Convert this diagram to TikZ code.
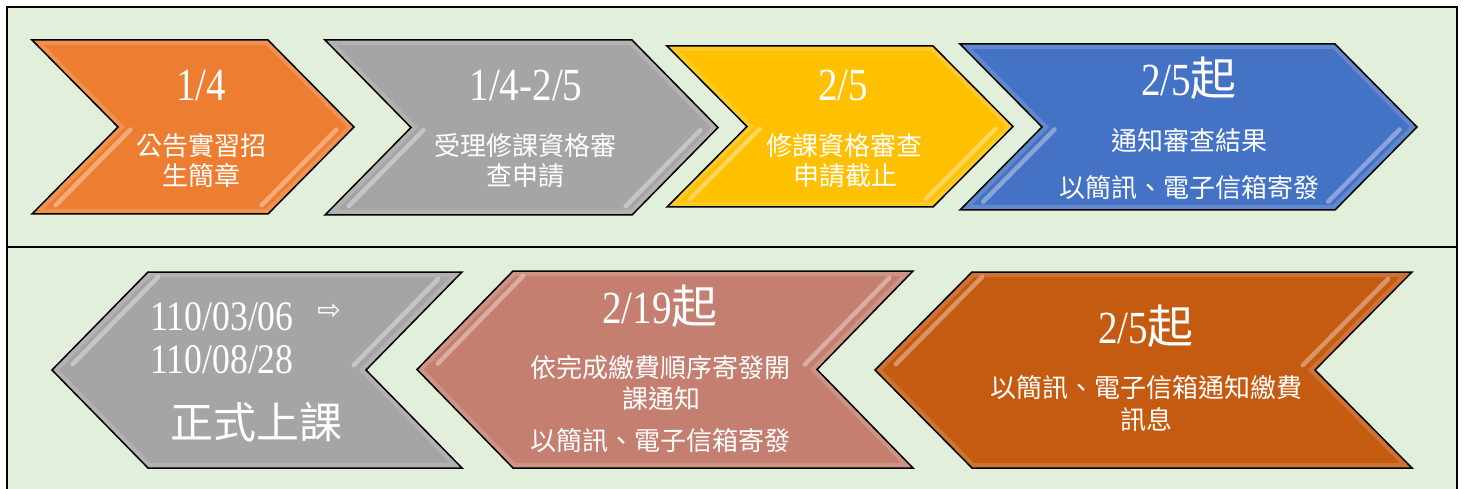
\documentclass[tikz,border=0pt]{standalone}
\usepackage{fontspec}
\setmainfont{Liberation Serif}
\newfontfamily\dt[FakeStretch=0.85]{Liberation Serif}
\newfontfamily\cjk{Noto Sans CJK TC}
\newfontfamily\sym{DejaVu Sans}
\usetikzlibrary{calc}
\definecolor{bg}{HTML}{E2EFDA}
\definecolor{cOrange}{HTML}{ED7D31}
\definecolor{cGray}{HTML}{A5A5A5}
\definecolor{cYellow}{HTML}{FFC000}
\definecolor{cBlue}{HTML}{4472C4}
\definecolor{cRose}{HTML}{C47F70}
\definecolor{cRust}{HTML}{C55A11}
\tikzset{
  txt/.style={text=white, inner sep=0pt, anchor=base},
  date/.style={txt, font=\dt\fontsize{46}{50}\selectfont},
  body/.style={txt, font=\cjk\fontsize{26}{30}\selectfont},
  hl/.style={line width=4.5pt, line cap=round, color=#1!40!white, opacity=0.6},
  edgeglow/.style={line width=10pt, color=#1!55!white, opacity=0.35},
  outline/.style={line width=1.5pt, line join=miter, draw=black}
}
\newcommand\chevbody[2]{%
  \fill[#1] (#2-a) -- (#2-b) -- (#2-c) -- (#2-d) -- (#2-e) -- (#2-f) -- cycle;
  \begin{scope}
    \clip (#2-a) -- (#2-b) -- (#2-c) -- (#2-d) -- (#2-e) -- (#2-f) -- cycle;
    \draw[edgeglow=#1] (#2-a) -- (#2-b) -- (#2-c) -- (#2-d) -- (#2-e) -- (#2-f) -- cycle;
  \end{scope}
}
% right-pointing chevron: L R T B D colour name
\newcommand\rchev[7]{%
  \pgfmathsetmacro\chM{(#3+#4)/2}
  \coordinate (#7-a) at (#1,#3);
  \coordinate (#7-b) at (#2,#3);
  \coordinate (#7-c) at ({#2+#5},\chM);
  \coordinate (#7-d) at (#2,#4);
  \coordinate (#7-e) at (#1,#4);
  \coordinate (#7-f) at ({#1+#5},\chM);
  \chevbody{#6}{#7}
  \draw[hl=#6] ($(#7-f)!0.03!(#7-e)+(15,0)$) -- ($(#7-f)!0.9!(#7-e)+(15,0)$);
  \draw[hl=#6] ($(#7-c)!0.03!(#7-d)+(-15,0)$) -- ($(#7-c)!0.9!(#7-d)+(-15,0)$);
  \draw[outline] (#7-a) -- (#7-b) -- (#7-c) -- (#7-d) -- (#7-e) -- (#7-f) -- cycle;
}
% left-pointing chevron: L R T B D colour name
\newcommand\lchev[7]{%
  \pgfmathsetmacro\chM{(#3+#4)/2}
  \coordinate (#7-a) at (#1,#3);
  \coordinate (#7-b) at (#2,#3);
  \coordinate (#7-c) at ({#2-#5},\chM);
  \coordinate (#7-d) at (#2,#4);
  \coordinate (#7-e) at (#1,#4);
  \coordinate (#7-f) at ({#1-#5},\chM);
  \chevbody{#6}{#7}
  \draw[hl=#6] ($(#7-f)!0.06!(#7-a)+(15,0)$) -- ($(#7-f)!0.95!(#7-a)+(15,0)$);
  \draw[hl=#6] ($(#7-c)!0.05!(#7-b)+(-17,0)$) -- ($(#7-c)!0.93!(#7-b)+(-17,0)$);
  \draw[outline] (#7-a) -- (#7-b) -- (#7-c) -- (#7-d) -- (#7-e) -- (#7-f) -- cycle;
}
\begin{document}
\begin{tikzpicture}[x=1pt,y=-1pt]
\useasboundingbox (0,0) rectangle (1464,489);
\fill[white] (0,0) rectangle (1464,489);
\fill[bg] (7,7) rectangle (1457,495);
\draw[line width=2pt] (7,495) -- (7,7) -- (1457,7) -- (1457,495);
\draw[line width=2pt] (7,247) -- (1457,247);

% row 1
\rchev{32}{268}{40}{214}{86}{cOrange}{s1}
\rchev{325}{632}{40}{215}{86}{cGray}{s2}
\rchev{667}{933}{46}{207}{80}{cYellow}{s3}
\rchev{960}{1335}{44}{210}{82}{cBlue}{s4}
% row 2
\lchev{148}{462}{272}{468}{96}{cGray}{s8}
\lchev{513}{913}{271}{468}{96}{cRose}{s7}
\lchev{972}{1412}{272}{468}{97}{cRust}{s6}

% texts row 1
\node[date] (t1a) at (201,101) {1/4};
\node[body] (t1b) at (201,156) {公告實習招};
\node[body] (t1c) at (201,186) {生簡章};

\node[date] (t2a) at (526,101) {1/4-2/5};
\node[body] (t2b) at (525,156) {受理修課資格審};
\node[body] (t2c) at (525,186) {查申請};

\node[date] (t3a) at (843,101) {2/5};
\node[body] (t3b) at (844,156) {修課資格審查};
\node[body] (t3c) at (845,186) {申請截止};

\node[date] (t4a) at (1189,96) {2/5{\cjk 起}};
\node[body] (t4b) at (1189,151) {通知審查結果};
\node[body] (t4c) at (1189,197) {以簡訊、電子信箱寄發};

% texts row 2
\node[date, anchor=base west, font=\dt\fontsize{42}{46}\selectfont] (t8a) at (150,330) {110/03/06};
\node[text=white, inner sep=0pt, font=\sym\fontsize{28}{28}\selectfont] (t8arr) at (329,312) {⇨};
\node[date, anchor=base west, font=\dt\fontsize{42}{46}\selectfont] (t8b) at (150,373) {110/08/28};
\node[body, font=\cjk\fontsize{43}{46}\selectfont] (t8c) at (256,438) {正式上課};

\node[date] (t7a) at (660,323) {2/19{\cjk 起}};
\node[body] (t7b) at (660,377) {依完成繳費順序寄發開};
\node[body] (t7c) at (661,408) {課通知};
\node[body] (t7d) at (660,450) {以簡訊、電子信箱寄發};

\node[date] (t6a) at (1146,343) {2/5{\cjk 起}};
\node[body] (t6b) at (1146,397) {以簡訊、電子信箱通知繳費};
\node[body] (t6c) at (1146,429) {訊息};
\end{tikzpicture}
\end{document}
